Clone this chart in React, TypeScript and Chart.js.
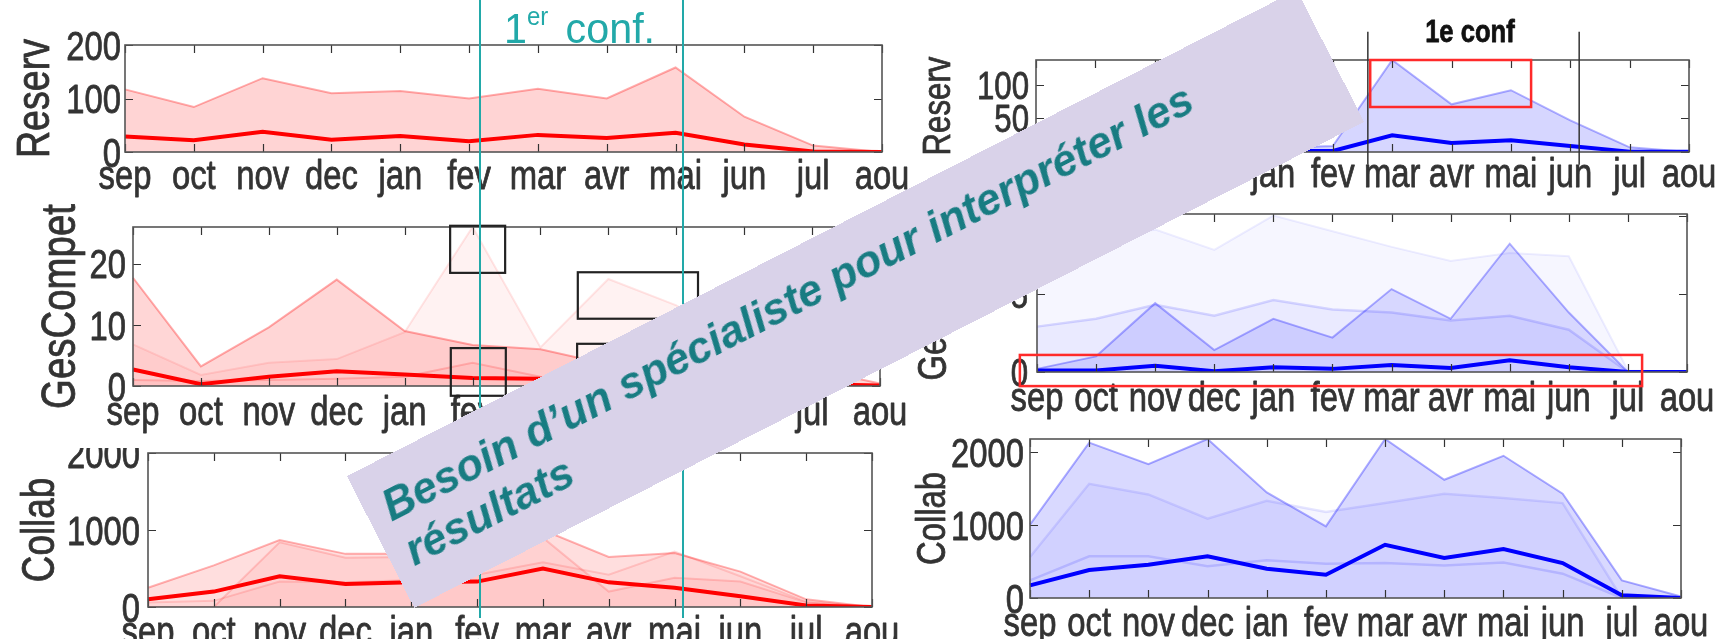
import React, { useEffect, useRef } from 'react';
import { Chart, registerables } from 'chart.js';

Chart.register(...registerables);

// ---------- categories ----------
const MONTHS = ['sep', 'oct', 'nov', 'dec', 'jan', 'fev', 'mar', 'avr', 'mai', 'jun', 'jul', 'aou'];

// ---------- left column (red) ----------
const L_RESERV_MEDIAN = [29, 22, 38, 23, 30, 20, 32, 26, 36, 14, 1, 0];
const L_RESERV_UPPER = [117, 84, 138, 110, 114, 100, 118, 100, 158, 66, 12, 0];
const L_RESERV_TICKS = [0, 100, 200];

const L_GES_MEDIAN = [2.7, 0.3, 1.5, 2.4, 1.9, 1.3, 1.2, 1.0, 0.9, 0.6, 0.3, 0.1];
const L_GES_UPPER = [17.7, 3.2, 9.6, 17.4, 9.0, 6.7, 6.0, 3.5, 4.0, 3.2, 2.8, 0.4];
const L_GES_PALE = [6.8, 1.8, 3.8, 4.4, 8.8, 26, 6.3, 17.5, 13.2, 6.0, 1.0, 0];
const L_GES_LOW = [1.0, 0.8, 1.0, 1.2, 1.5, 3.8, 1.5, 1.2, 2.5, 1.5, 0.5, 0];
const L_GES_TICKS = [0, 10, 20];

const L_COLLAB_MEDIAN = [100, 200, 400, 300, 320, 330, 500, 320, 250, 140, 20, 0];
const L_COLLAB_UPPER = [250, 540, 870, 690, 690, 760, 1000, 650, 700, 460, 100, 0];
const L_COLLAB_MID = [0, 0, 840, 640, 650, 700, 900, 200, 380, 330, 60, 0];
const L_COLLAB_LOW = [60, 80, 330, 320, 350, 420, 580, 420, 720, 400, 70, 0];
const L_COLLAB_TICKS = [0, 1000, 2000];

// ---------- right column (blue) ----------
const R_RESERV_MEDIAN = [1, 1, 1.5, 1, 1.5, 1.5, 25, 13.5, 17.5, 9, 0.5, 0.5];
const R_RESERV_UPPER = [4, 4, 5, 4, 6, 9, 137, 71, 92, 47, 7, 0];
const R_RESERV_TICKS = [0, 50, 100];

const R_GES_MEDIAN = [0.1, 0.1, 0.4, 0.05, 0.3, 0.2, 0.45, 0.25, 0.75, 0.3, 0, 0];
const R_GES_UPPER = [8.0, 8.6, 9.1, 7.8, 10.0, 9.0, 8.0, 7.1, 7.6, 7.4, 0.1, 0];
const R_GES_MID = [0.2, 1.0, 4.4, 1.4, 3.4, 2.2, 5.3, 3.4, 8.2, 3.8, 0, 0];
const R_GES_LOW = [2.9, 3.4, 4.3, 3.6, 4.6, 4.0, 3.8, 3.3, 3.6, 2.7, 0, 0];
const R_GES_TICKS = [0, 5, 10];

const R_COLLAB_MEDIAN = [173, 383, 456, 571, 402, 320, 730, 548, 671, 479, 37, 0];
const R_COLLAB_UPPER = [1005, 2130, 1836, 2180, 1447, 982, 2180, 1621, 1950, 1429, 242, 20];
const R_COLLAB_MID = [562, 1566, 1420, 1087, 1333, 1178, 1301, 1429, 1370, 1301, 0, 0];
const R_COLLAB_LOW = [242, 571, 571, 434, 516, 470, 479, 447, 488, 333, 0, 0];
const R_COLLAB_TICKS = [0, 1000, 2000];

// ---------- styling ----------
const W = 1719;
const H = 639;
const SANS = '"Liberation Sans", Arial, sans-serif';
const NARROW_X = 0.8; // horizontal squeeze -> emulates a narrow face
const TEXT = '#333';
const TEAL = '#22a9a9';
const TEAL_LINES_X = [480, 683];

type DS = { data: number[]; color: string; width: number; fill?: string };

function series(data: number[], color: string, width: number, fill?: string): DS {
  return { data, color, width, fill };
}

type Rect = { x0: number; x1: number; y0: number; y1: number; color: string; width: number };
type VLine = { x: number; y0: number; y1: number; color: string; width: number };
type Txt = { x: number; y: number; text: string; size: number; weight: string; color: string };

type PanelDef = {
  id: string;
  canvas: { x: number; y: number; w: number; h: number };
  plot: { l: number; t: number; r: number; b: number };
  clipTop?: number;
  ymax: number;
  yticks: number[];
  title: string;
  titleSize: number;
  titleX: number;
  tickSize: number;
  ytickSize: number;
  ytickPad: number;
  xlabBase: number;
  datasets: DS[];
  rects?: Rect[];
  vlines?: VLine[];
  texts?: Txt[];
};

const PANELS: PanelDef[] = [
  {
    id: 'L1',
    canvas: { x: 0, y: 0, w: 930, h: 205 },
    plot: { l: 125, t: 45, r: 882, b: 152 },
    ymax: 200, yticks: L_RESERV_TICKS, title: 'Reserv', titleSize: 47, titleX: 32,
    tickSize: 41, ytickSize: 41, ytickPad: 4, xlabBase: 37,
    datasets: [
      series(L_RESERV_MEDIAN, '#ff0000', 4),
      series(L_RESERV_UPPER, 'rgba(255,0,0,0.32)', 2, 'rgba(255,0,0,0.17)'),
    ],
  },
  {
    id: 'L2',
    canvas: { x: 0, y: 185, w: 930, h: 255 },
    plot: { l: 133, t: 227, r: 880, b: 386 },
    ymax: 26, yticks: L_GES_TICKS, title: 'GesCompet', titleSize: 48, titleX: 58,
    tickSize: 41, ytickSize: 41, ytickPad: 7, xlabBase: 39,
    datasets: [
      series(L_GES_MEDIAN, '#ff0000', 4),
      series(L_GES_LOW, 'rgba(255,0,0,0.18)', 2, 'rgba(255,0,0,0.05)'),
      series(L_GES_UPPER, 'rgba(255,0,0,0.32)', 2, 'rgba(255,0,0,0.16)'),
      series(L_GES_PALE, 'rgba(255,0,0,0.1)', 2, 'rgba(255,0,0,0.05)'),
    ],
    rects: [
      { x0: 4.67, x1: 5.48, y0: 26.2, y1: 18.5, color: '#222', width: 2.2 },
      { x0: 4.68, x1: 5.49, y0: 6.2, y1: -1.6, color: '#222', width: 2.2 },
      { x0: 6.55, x1: 8.32, y0: 18.6, y1: 11.0, color: '#222', width: 2.2 },
      { x0: 6.54, x1: 8.32, y0: 6.9, y1: -1.0, color: '#222', width: 2.2 },
    ],
  },
  {
    id: 'L3',
    canvas: { x: 0, y: 415, w: 930, h: 224 },
    plot: { l: 148, t: 453, r: 872, b: 607 },
    clipTop: 448,
    ymax: 2000, yticks: L_COLLAB_TICKS, title: 'Collab', titleSize: 46, titleX: 37,
    tickSize: 41, ytickSize: 41, ytickPad: 8, xlabBase: 38,
    datasets: [
      series(L_COLLAB_MEDIAN, '#ff0000', 4),
      series(L_COLLAB_LOW, 'rgba(255,0,0,0.14)', 2, 'rgba(255,0,0,0.04)'),
      series(L_COLLAB_MID, 'rgba(255,0,0,0.16)', 2, 'rgba(255,0,0,0.06)'),
      series(L_COLLAB_UPPER, 'rgba(255,0,0,0.3)', 2, 'rgba(255,0,0,0.13)'),
    ],
  },
  {
    id: 'R1',
    canvas: { x: 880, y: 0, w: 839, h: 202 },
    plot: { l: 1036, t: 60, r: 1689, b: 152 },
    ymax: 137, yticks: R_RESERV_TICKS, title: 'Reserv', titleSize: 39, titleX: 936,
    tickSize: 41, ytickSize: 39, ytickPad: 7, xlabBase: 35,
    datasets: [
      series(R_RESERV_MEDIAN, '#0000ff', 4),
      series(R_RESERV_UPPER, 'rgba(0,0,255,0.3)', 2, 'rgba(0,0,255,0.16)'),
    ],
    rects: [{ x0: 5.63, x1: 8.34, y0: 137, y1: 67, color: '#ff2a2a', width: 2.5 }],
    vlines: [
      { x: 5.59, y0: 179, y1: -19, color: '#333', width: 1.5 },
      { x: 9.15, y0: 179, y1: -19, color: '#333', width: 1.5 },
    ],
    texts: [{ x: 7.31, y: 164, text: '1e conf', size: 32, weight: 'bold', color: '#111' }],
  },
  {
    id: 'R2',
    canvas: { x: 880, y: 180, w: 839, h: 247 },
    plot: { l: 1037, t: 214, r: 1687, b: 372 },
    ymax: 10.1, yticks: R_GES_TICKS, title: 'GesCompet', titleSize: 41, titleX: 931,
    tickSize: 41, ytickSize: 39, ytickPad: 9, xlabBase: 39,
    datasets: [
      series(R_GES_MEDIAN, '#0000ff', 4),
      series(R_GES_LOW, 'rgba(0,0,255,0.14)', 2.5, 'rgba(0,0,255,0.05)'),
      series(R_GES_MID, 'rgba(0,0,255,0.3)', 2, 'rgba(0,0,255,0.13)'),
      series(R_GES_UPPER, 'rgba(0,0,255,0.07)', 2, 'rgba(0,0,255,0.035)'),
    ],
    rects: [{ x0: -0.29, x1: 10.24, y0: 1.09, y1: -0.9, color: '#ff2a2a', width: 2.5 }],
  },
  {
    id: 'R3',
    canvas: { x: 880, y: 405, w: 839, h: 234 },
    plot: { l: 1030, t: 439, r: 1681, b: 598 },
    ymax: 2180, yticks: R_COLLAB_TICKS, title: 'Collab', titleSize: 41, titleX: 930,
    tickSize: 41, ytickSize: 41, ytickPad: 6, xlabBase: 38,
    datasets: [
      series(R_COLLAB_MEDIAN, '#0000ff', 4),
      series(R_COLLAB_LOW, 'rgba(0,0,255,0.14)', 2.5),
      series(R_COLLAB_MID, 'rgba(0,0,255,0.1)', 2.5, 'rgba(0,0,255,0.04)'),
      series(R_COLLAB_UPPER, 'rgba(0,0,255,0.32)', 2, 'rgba(0,0,255,0.15)'),
    ],
  },
];

function narrowText(
  ctx: CanvasRenderingContext2D, text: string, x: number, y: number, size: number,
  align: CanvasTextAlign, weight = 'normal', color = TEXT, rotate = 0,
) {
  ctx.save();
  ctx.font = `${weight} ${size}px ${SANS}`;
  ctx.fillStyle = color;
  ctx.strokeStyle = color;
  ctx.lineWidth = 0.8;
  ctx.lineJoin = 'round';
  ctx.textBaseline = 'alphabetic';
  ctx.textAlign = align;
  ctx.translate(x, y);
  if (rotate) ctx.rotate(rotate);
  ctx.scale(NARROW_X, 1);
  ctx.fillText(text, 0, 0);
  ctx.strokeText(text, 0, 0);
  ctx.restore();
}

function makeFrame(p: PanelDef) {
  return {
    id: 'frame_' + p.id,
    afterDraw(chart: any) {
      const { ctx, chartArea: a, scales } = chart;
      const x = scales.x;
      const y = scales.y;
      const cx = p.canvas.x;
      ctx.save();
      // inward tick marks
      ctx.strokeStyle = '#333';
      ctx.lineWidth = 1.2;
      ctx.beginPath();
      x.ticks.forEach((_t: any, i: number) => {
        const px = Math.round(x.getPixelForTick(i)) + 0.5;
        ctx.moveTo(px, a.top);
        ctx.lineTo(px, a.top + 8);
        ctx.moveTo(px, a.bottom);
        ctx.lineTo(px, a.bottom - 8);
      });
      y.ticks.forEach((t: any) => {
        const py = Math.round(y.getPixelForValue(t.value)) + 0.5;
        ctx.moveTo(a.left, py);
        ctx.lineTo(a.left + 8, py);
        ctx.moveTo(a.right, py);
        ctx.lineTo(a.right - 8, py);
      });
      ctx.stroke();
      // box
      ctx.strokeStyle = '#555';
      ctx.lineWidth = 1.6;
      ctx.strokeRect(a.left, a.top, a.right - a.left, a.bottom - a.top);
      // tick labels (narrow face)
      x.ticks.forEach((_t: any, i: number) => {
        narrowText(ctx, String(x.getLabelForValue(i)), x.getPixelForTick(i), a.bottom + p.xlabBase, p.tickSize, 'center');
      });
      y.ticks.forEach((t: any) => {
        const py = y.getPixelForValue(t.value);
        narrowText(ctx, String(t.value), a.left - p.ytickPad, py + 0.358 * p.ytickSize, p.ytickSize, 'right');
      });
      // axis title (rotated)
      const midY = (a.top + a.bottom) / 2;
      narrowText(ctx, p.title, p.titleX - cx + 0.36 * p.titleSize, midY, p.titleSize, 'center', 'normal', TEXT, -Math.PI / 2);
      // annotations
      (p.vlines || []).forEach((v) => {
        ctx.strokeStyle = v.color;
        ctx.lineWidth = v.width;
        const px = x.getPixelForValue(v.x);
        ctx.beginPath();
        ctx.moveTo(px, y.getPixelForValue(v.y0));
        ctx.lineTo(px, y.getPixelForValue(v.y1));
        ctx.stroke();
      });
      (p.rects || []).forEach((r) => {
        ctx.strokeStyle = r.color;
        ctx.lineWidth = r.width;
        const x0 = x.getPixelForValue(r.x0);
        const x1 = x.getPixelForValue(r.x1);
        const y0 = y.getPixelForValue(r.y0);
        const y1 = y.getPixelForValue(r.y1);
        ctx.strokeRect(x0, y0, x1 - x0, y1 - y0);
      });
      (p.texts || []).forEach((t) => {
        narrowText(ctx, t.text, x.getPixelForValue(t.x), y.getPixelForValue(t.y), t.size, 'center', t.weight, t.color);
      });
      ctx.restore();
    },
  };
}

function Panel({ p }: { p: PanelDef }) {
  const ref = useRef<HTMLCanvasElement | null>(null);
  useEffect(() => {
    const c = p.canvas;
    const a = p.plot;
    const chart = new Chart(ref.current as HTMLCanvasElement, {
      type: 'line',
      data: {
        labels: MONTHS,
        datasets: p.datasets.map((d) => ({
          data: [...d.data],
          borderColor: d.color,
          borderWidth: d.width,
          backgroundColor: d.fill || 'transparent',
          fill: d.fill ? 'origin' : false,
          pointRadius: 0,
          pointHoverRadius: 0,
          tension: 0,
        })),
      },
      options: {
        responsive: false,
        animation: false,
        devicePixelRatio: 1,
        events: [],
        layout: { padding: { left: 0, top: a.t - c.y, right: c.x + c.w - a.r, bottom: 0 } },
        plugins: { legend: { display: false }, tooltip: { enabled: false } },
        scales: {
          x: {
            type: 'category',
            offset: false,
            grid: { display: false, drawTicks: false },
            border: { display: false },
            ticks: { display: false, autoSkip: false, maxRotation: 0, minRotation: 0 },
            afterFit: (s: any) => { s.height = c.y + c.h - a.b; },
          },
          y: {
            type: 'linear',
            min: 0,
            max: p.ymax,
            grid: { display: false, drawTicks: false },
            border: { display: false },
            afterBuildTicks: (s: any) => { s.ticks = p.yticks.map((v) => ({ value: v })); },
            ticks: { display: false },
            afterFit: (s: any) => { s.width = a.l - c.x; },
          },
        },
      } as any,
      plugins: [makeFrame(p)],
    });
    return () => chart.destroy();
  }, []);

  const c = p.canvas;
  if (p.clipTop !== undefined) {
    return (
      <div style={{ position: 'absolute', left: c.x, top: p.clipTop, width: c.w, height: c.y + c.h - p.clipTop, overflow: 'hidden' }}>
        <canvas ref={ref} width={c.w} height={c.h} style={{ position: 'absolute', left: 0, top: c.y - p.clipTop }} />
      </div>
    );
  }
  return <canvas ref={ref} width={c.w} height={c.h} style={{ position: 'absolute', left: c.x, top: c.y }} />;
}

export default function App() {
  const bannerW = 1067;
  const bannerH = 148;
  const bannerCx = 855;
  const bannerCy = 299;
  return (
    <div style={{ position: 'absolute', left: 0, top: 0, width: W, height: H, overflow: 'hidden', background: '#fff' }}>
      {PANELS.map((p) => (
        <Panel key={p.id} p={p} />
      ))}
      {TEAL_LINES_X.map((x) => (
        <div key={x} style={{ position: 'absolute', left: x - 1, top: 0, width: 2, height: 618, background: TEAL }} />
      ))}
      <div
        style={{
          position: 'absolute', left: 504, top: 6, color: TEAL, whiteSpace: 'nowrap',
          fontFamily: SANS, fontSize: 43, lineHeight: '44px',
          transform: 'scaleX(0.96)', transformOrigin: 'left top',
        }}
      >
        1<span style={{ fontSize: 25, position: 'relative', top: -18 }}>er</span>
        <span style={{ marginLeft: 18 }}>conf.</span>
      </div>
      <div
        style={{
          position: 'absolute', left: bannerCx - bannerW / 2, top: bannerCy - bannerH / 2,
          width: bannerW, height: bannerH, background: '#d9d2e9',
          transform: 'rotate(-27.1deg)', transformOrigin: 'center center', boxSizing: 'border-box',
          padding: '21px 0 0 19px', fontFamily: SANS, fontWeight: 'bold',
          fontStyle: 'italic', fontSize: 44, lineHeight: '50px', color: '#187c82', whiteSpace: 'nowrap',
        }}
      >
        Besoin d’un spécialiste pour interpréter les
        <br />
        résultats
      </div>
    </div>
  );
}
